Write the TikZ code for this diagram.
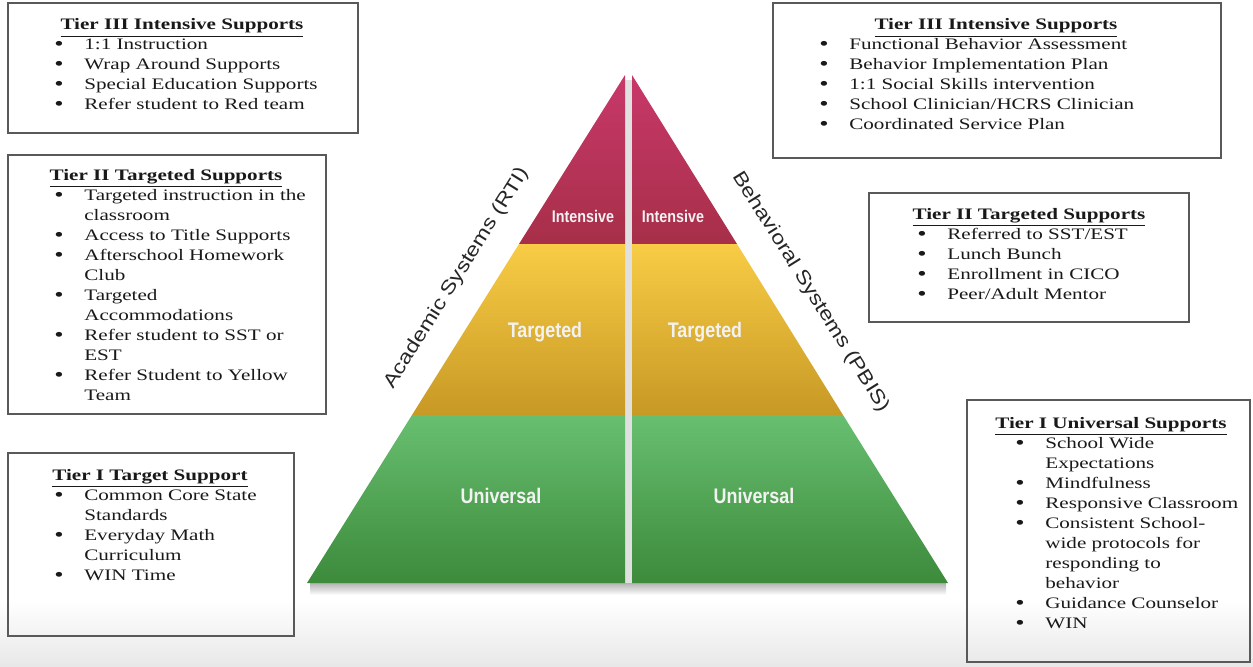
\documentclass[tikz,border=0pt]{standalone}
\usepackage{fontspec}
\setmainfont{Liberation Serif}[FakeStretch=1.32]
\newfontfamily\tierfont{Liberation Sans}[FakeStretch=0.85]
\newfontfamily\sidefont{Liberation Sans}[FakeStretch=1.2]

\definecolor{intTop}{HTML}{C8386A}
\definecolor{intBot}{HTML}{A72F49}
\definecolor{tgtTop}{HTML}{F8CC45}
\definecolor{tgtBot}{HTML}{C79925}
\definecolor{uniTop}{HTML}{68BF70}
\definecolor{uniBot}{HTML}{3D8A3B}

\newcommand{\tlist}[1]{\begin{tabular}[t]{@{}p{0.6cm}@{}l@{}}#1\end{tabular}}
\newcommand{\bl}{\raisebox{-0.15ex}{\fontsize{11.5}{11.4}\selectfont\textbullet}}

\tikzset{
  tierbox/.style={draw=black!65, line width=0.7pt, inner sep=0pt},
  tiertitle/.style={anchor=base, inner sep=0pt, text=black!90, font=\fontsize{9.1}{11.4}\selectfont\bfseries},
  tierlist/.style={anchor=base west, inner sep=0pt, text=black!90, font=\fontsize{9.1}{11.4}\selectfont},
  band/.style={anchor=base, inner sep=0pt, text=white!95!black},
  side/.style={inner sep=0pt, text=black!85, font=\sidefont\fontsize{11}{13}\selectfont}
}

\begin{document}
\begin{tikzpicture}[x=0.02cm, y=-0.02cm]
\useasboundingbox (0,0) rectangle (1253,666);

\shade[top color=white, bottom color=black!9] (0,600) rectangle (1253,666);
\shade[top color=black!30, bottom color=white] (310,583) rectangle (946,595);
\fill[black!12] (625,80) rectangle (632,583);

% academic half
\coordinate (apexL) at (625,75);
\shade[top color=intTop, bottom color=intBot] (apexL) -- (625,244) -- (519,244) -- cycle;
\shade[top color=tgtTop, bottom color=tgtBot] (519,244) -- (625,244) -- (625,415) -- (412,415) -- cycle;
\shade[top color=uniTop, bottom color=uniBot] (412,415) -- (625,415) -- (625,583) -- (307,583) -- cycle;

% behavioral half
\coordinate (apexR) at (632,75);
\shade[top color=intTop, bottom color=intBot] (apexR) -- (737,244) -- (632,244) -- cycle;
\shade[top color=tgtTop, bottom color=tgtBot] (632,244) -- (737,244) -- (843,415) -- (632,415) -- cycle;
\shade[top color=uniTop, bottom color=uniBot] (632,415) -- (843,415) -- (948,583) -- (632,583) -- cycle;

\path (583,222) node (intA) [band, font=\tierfont\bfseries\fontsize{9.6}{11}\selectfont] {Intensive};
\path (673,222) node (intB) [band, font=\tierfont\bfseries\fontsize{9.6}{11}\selectfont] {Intensive};
\path (545,337) node (tgtA) [band, font=\tierfont\bfseries\fontsize{12}{14}\selectfont] {Targeted};
\path (705,337) node (tgtB) [band, font=\tierfont\bfseries\fontsize{12}{14}\selectfont] {Targeted};
\path (501,503) node (uniA) [band, font=\tierfont\bfseries\fontsize{12}{14}\selectfont] {Universal};
\path (754,503) node (uniB) [band, font=\tierfont\bfseries\fontsize{12}{14}\selectfont] {Universal};

\path (457,278) node (rti) [side, rotate=58] {Academic Systems (RTI)};
\path (811,292) node (pbis) [side, rotate=-58] {Behavioral Systems (PBIS)};

% left side boxes
\path (183,68) node (acadThree) [tierbox, minimum width=7cm, minimum height=2.6cm] {};
\path (182,30) node (acadThreeHead) [tiertitle] {\underline{Tier III Intensive Supports}};
\path (54,49) node (acadThreeList) [tierlist] {\tlist{
\bl & 1:1 Instruction\\
\bl & Wrap Around Supports\\
\bl & Special Education Supports\\
\bl & Refer student to Red team}};

\path (167,284.5) node (acadTwo) [tierbox, minimum width=6.36cm, minimum height=5.18cm] {};
\path (166,180) node (acadTwoHead) [tiertitle] {\underline{Tier II Targeted Supports}};
\path (54,200) node (acadTwoList) [tierlist] {\tlist{
\bl & Targeted instruction in the\\
    & classroom\\
\bl & Access to Title Supports\\
\bl & Afterschool Homework\\
    & Club\\
\bl & Targeted\\
    & Accommodations\\
\bl & Refer student to SST or\\
    & EST\\
\bl & Refer Student to Yellow\\
    & Team}};

\path (151,544.5) node (acadOne) [tierbox, minimum width=5.72cm, minimum height=3.66cm] {};
\path (150,480) node (acadOneHead) [tiertitle] {\underline{Tier I Target Support}};
\path (54,500) node (acadOneList) [tierlist] {\tlist{
\bl & Common Core State\\
    & Standards\\
\bl & Everyday Math\\
    & Curriculum\\
\bl & WIN Time}};

% right side boxes
\path (997,80.5) node (behavThree) [tierbox, minimum width=8.96cm, minimum height=3.1cm] {};
\path (996,30) node (behavThreeHead) [tiertitle] {\underline{Tier III Intensive Supports}};
\path (819,49) node (behavThreeList) [tierlist] {\tlist{
\bl & Functional Behavior Assessment\\
\bl & Behavior Implementation Plan\\
\bl & 1:1 Social Skills intervention\\
\bl & School Clinician/HCRS Clinician\\
\bl & Coordinated Service Plan}};

\path (1029,257.5) node (behavTwo) [tierbox, minimum width=6.4cm, minimum height=2.58cm] {};
\path (1029,219) node (behavTwoHead) [tiertitle] {\underline{Tier II Targeted Supports}};
\path (917,239) node (behavTwoList) [tierlist] {\tlist{
\bl & Referred to SST/EST\\
\bl & Lunch Bunch\\
\bl & Enrollment in CICO\\
\bl & Peer/Adult Mentor}};

\path (1108.5,531) node (behavOne) [tierbox, minimum width=5.66cm, minimum height=5.24cm] {};
\path (1111,428) node (behavOneHead) [tiertitle] {\underline{Tier I Universal Supports}};
\path (1015,448) node (behavOneList) [tierlist] {\tlist{
\bl & School Wide\\
    & Expectations\\
\bl & Mindfulness\\
\bl & Responsive Classroom\\
\bl & Consistent School-\\
    & wide protocols for\\
    & responding to\\
    & behavior\\
\bl & Guidance Counselor\\
\bl & WIN}};

\end{tikzpicture}
\end{document}
